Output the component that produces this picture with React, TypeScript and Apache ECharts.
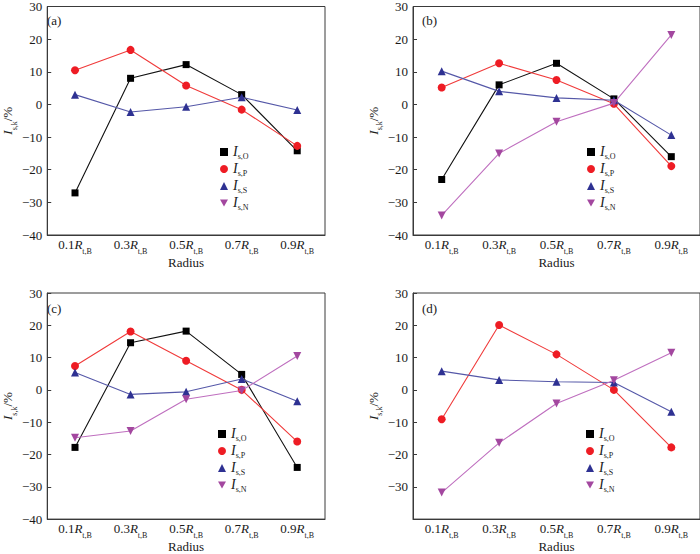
import React, { useEffect, useRef } from "react";
import * as echarts from "echarts";

const categories = ["0.1", "0.3", "0.5", "0.7", "0.9"];
const yTicks = { min: -40, max: 30, interval: 10 };
const panelLabels = ["(a)", "(b)", "(c)", "(d)"];
const seriesNames = ["Is,O", "Is,P", "Is,S", "Is,N"];
const seriesSubs = ["s,O", "s,P", "s,S", "s,N"];

// panel (a)
const aO = [-27.1, 8.0, 12.2, 3.0, -14.2];
const aP = [10.45, 16.7, 5.8, -1.6, -12.7];
const aS = [3.0, -2.3, -0.7, 2.2, -1.7];
const aN: number[] | null = null;
// panel (b)
const bO = [-23, 6, 12.6, 1.7, -16];
const bP = [5.2, 12.6, 7.5, 0.2, -18.9];
const bS = [10.2, 4.0, 2.0, 1.3, -9.4];
const bN = [-34, -15, -5.3, 0.4, 21.3];
// panel (c)
const cO = [-17.8, 14.6, 18.2, 4.8, -24];
const cP = [7.4, 18.1, 9.0, 0, -16];
const cS = [5.4, -1.4, -0.6, 3.4, -3.5];
const cN = [-14.8, -12.7, -2.9, -0.2, 10.5];
// panel (d)
const dO: number[] | null = null;
const dP = [-9.1, 20.1, 11.0, 0, -17.8];
const dS = [5.8, 3.1, 2.5, 2.3, -6.8];
const dN = [-31.8, -16.4, -4.2, 3.0, 11.5];

const panels = [
  [aO, aP, aS, aN],
  [bO, bP, bS, bN],
  [cO, cP, cS, cN],
  [dO, dP, dS, dN],
];

const FONT = "'Liberation Serif', 'Times New Roman', serif";
const TXT = "#1a1a1a";
const AX = "#3a3a3a";

const markerColors = ["#000000", "#ee1c24", "#2e3192", "#a3479f"];
const lineColors = ["#111111", "#f03a3a", "#5558a8", "#bf6fbf"];
const triDown = "path://M0,0 L10,0 L5,9 Z";
const symbols = ["rect", "circle", "triangle", triDown];
const symbolSizes = [7, 8, 8, 8];

const grids = [
  { left: 38, top: 5, width: 287, height: 230 },
  { left: 413, top: 5, width: 287, height: 230 },
  { left: 38, top: 293, width: 287, height: 231 },
  { left: 413, top: 293, width: 287, height: 231 },
];
const legendPos = [
  { left: 215, top: 139 },
  { left: 582, top: 139 },
  { left: 213, top: 421 },
  { left: 581, top: 421 },
];

const rich = {
  n: { fontSize: 13, fontFamily: FONT, color: TXT, lineHeight: 17, verticalAlign: "top" },
  i: { fontSize: 13, fontFamily: FONT, fontStyle: "italic", color: TXT, lineHeight: 17, verticalAlign: "top" },
  s: { fontSize: 8, fontFamily: FONT, color: TXT, lineHeight: 8, verticalAlign: "bottom" },
};
const legendRich = {
  i: { fontSize: 14, fontFamily: FONT, fontStyle: "italic", color: TXT, lineHeight: 16, verticalAlign: "top" },
  s: { fontSize: 8, fontFamily: FONT, color: TXT, lineHeight: 8, verticalAlign: "bottom" },
};

function fmtY(v: number, hideMin: boolean) {
  if (hideMin && v === yTicks.min) return "";
  return v < 0 ? "\u2212" + Math.abs(v) : String(v);
}

export default function App() {
  const ref = useRef<HTMLDivElement>(null);
  useEffect(() => {
    document.body.style.margin = "0";
    if (!ref.current) return;
    const chart = echarts.init(ref.current, null, { renderer: "svg" });

    const xAxis: any[] = [];
    const yAxis: any[] = [];
    const series: any[] = [];
    const legend: any[] = [];
    const graphic: any[] = [];

    grids.forEach((g, k) => {
      xAxis.push({
        type: "category",
        gridIndex: k,
        data: categories,
        boundaryGap: true,
        axisLine: { onZero: false, lineStyle: { color: AX, width: 1 } },
        axisTick: { alignWithLabel: true, inside: true, length: 4, interval: 0, lineStyle: { color: AX } },
        axisLabel: {
          margin: 3,
          interval: 0,
          formatter: (v: string) => `{n|${v}}{i|R}{s|t,B}`,
          rich,
        },
        name: "Radius",
        nameLocation: "middle",
        nameGap: 20,
        nameTextStyle: { fontFamily: FONT, fontSize: 13, color: TXT },
        splitLine: { show: false },
      });
      yAxis.push({
        type: "value",
        gridIndex: k,
        min: yTicks.min,
        max: yTicks.max,
        interval: yTicks.interval,
        axisLine: { show: true, onZero: false, lineStyle: { color: AX, width: 1 } },
        axisTick: { show: true, inside: true, length: 4, lineStyle: { color: AX } },
        axisLabel: {
          margin: 5,
          fontFamily: FONT,
          fontSize: 13,
          color: TXT,
          formatter: (v: number) => fmtY(v, k === 3),
        },
        splitLine: { show: false },
        name: "{i|I}{s|s,k}{n|/%}",
        nameLocation: "middle",
        nameRotate: 90,
        nameGap: 20,
        nameTextStyle: { rich },
      });
      panels[k].forEach((vals, j) => {
        if (!vals) return;
        series.push({
          type: "line",
          name: seriesNames[j],
          xAxisIndex: k,
          yAxisIndex: k,
          data: vals,
          symbol: symbols[j],
          symbolSize: symbolSizes[j],
          showAllSymbol: true,
          itemStyle: { color: markerColors[j] },
          lineStyle: { color: lineColors[j], width: 1.1 },
          z: 2 + j,
        });
      });
      legend.push({
        orient: "vertical",
        left: legendPos[k].left,
        top: legendPos[k].top,
        itemWidth: 8,
        itemHeight: 8,
        itemGap: 1,
        selectedMode: false,
        data: seriesNames.map((n, j) => ({
          name: n,
          icon: symbols[j],
          itemStyle: { color: markerColors[j] },
        })),
        formatter: (name: string) => `{i|I}{s|${seriesSubs[seriesNames.indexOf(name)]}}`,
        textStyle: { rich: legendRich },
      });
      graphic.push({
        type: "text",
        left: g.left + 9,
        top: g.top + 9,
        style: { text: panelLabels[k], fontFamily: FONT, fontSize: 13, fill: TXT },
      });
    });

    chart.setOption({
      animation: false,
      backgroundColor: "#ffffff",
      grid: grids.map((g) => ({
        ...g,
        show: true,
        borderColor: AX,
        borderWidth: 1,
        backgroundColor: "transparent",
        containLabel: false,
      })),
      xAxis,
      yAxis,
      series,
      legend,
      graphic,
    });
    return () => chart.dispose();
  }, []);
  return <div ref={ref} style={{ width: 700, height: 554 }} />;
}
